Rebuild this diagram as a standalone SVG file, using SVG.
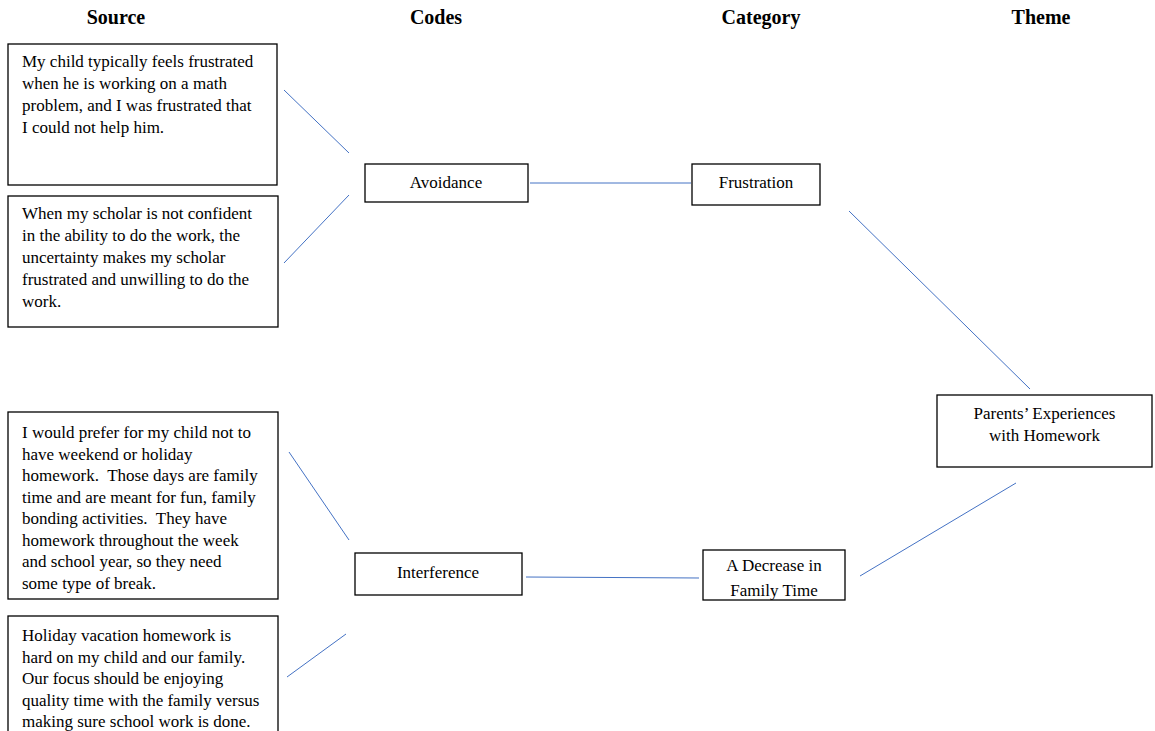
<svg xmlns="http://www.w3.org/2000/svg" width="1155" height="731" viewBox="0 0 1155 731">
  <style>
    .hdr { font-family: "Liberation Serif", "Times New Roman", serif; font-size: 20px; font-weight: bold; fill: #000; text-anchor: middle; }
    .box { fill: #fff; stroke: #000; stroke-width: 1.3; }
    .txt { font-family: "Liberation Serif", "Times New Roman", serif; font-size: 17px; fill: #000; }
    .mid { text-anchor: middle; }
    .link { stroke: #4472c4; stroke-width: 1; fill: none; }
  </style>
  <rect width="1155" height="731" fill="#fff"/>

  <!-- column headings -->
  <g id="headings">
    <text class="hdr" x="116" y="24">Source</text>
    <text class="hdr" x="436" y="24">Codes</text>
    <text class="hdr" x="761" y="24">Category</text>
    <text class="hdr" x="1041" y="24">Theme</text>
  </g>

  <!-- connectors -->
  <g id="connectors">
    <line class="link" x1="284" y1="90" x2="349" y2="153"/>
    <line class="link" x1="284" y1="263" x2="349" y2="195"/>
    <line class="link" x1="530" y1="183" x2="691" y2="183"/>
    <line class="link" x1="849" y1="211" x2="1030" y2="389"/>
    <line class="link" x1="289" y1="452" x2="349" y2="540"/>
    <line class="link" x1="287" y1="677" x2="346" y2="634"/>
    <line class="link" x1="526" y1="577" x2="699" y2="578"/>
    <line class="link" x1="860" y1="576" x2="1016" y2="483"/>
  </g>

  <!-- source quotes -->
  <g id="source1">
    <rect class="box" x="8" y="44" width="269" height="141"/>
    <text class="txt" x="22" y="67">
      <tspan x="22" dy="0">My child typically feels frustrated</tspan>
      <tspan x="22" dy="22">when he is working on a math</tspan>
      <tspan x="22" dy="22">problem, and I was frustrated that</tspan>
      <tspan x="22" dy="22">I could not help him.</tspan>
    </text>
  </g>
  <g id="source2">
    <rect class="box" x="8" y="196" width="270" height="131"/>
    <text class="txt" x="22" y="219">
      <tspan x="22" dy="0">When my scholar is not confident</tspan>
      <tspan x="22" dy="22">in the ability to do the work, the</tspan>
      <tspan x="22" dy="22">uncertainty makes my scholar</tspan>
      <tspan x="22" dy="22">frustrated and unwilling to do the</tspan>
      <tspan x="22" dy="22">work.</tspan>
    </text>
  </g>
  <g id="source3">
    <rect class="box" x="8" y="412" width="270" height="187"/>
    <text class="txt" x="22" y="438">
      <tspan x="22" dy="0">I would prefer for my child not to</tspan>
      <tspan x="22" dy="21.5">have weekend or holiday</tspan>
      <tspan x="22" dy="21.5">homework.&#160; Those days are family</tspan>
      <tspan x="22" dy="21.5">time and are meant for fun, family</tspan>
      <tspan x="22" dy="21.5">bonding activities.&#160; They have</tspan>
      <tspan x="22" dy="21.5">homework throughout the week</tspan>
      <tspan x="22" dy="21.5">and school year, so they need</tspan>
      <tspan x="22" dy="21.5">some type of break.</tspan>
    </text>
  </g>
  <g id="source4">
    <rect class="box" x="8" y="616" width="270" height="130"/>
    <text class="txt" x="22" y="641">
      <tspan x="22" dy="0">Holiday vacation homework is</tspan>
      <tspan x="22" dy="21.5">hard on my child and our family.</tspan>
      <tspan x="22" dy="21.5">Our focus should be enjoying</tspan>
      <tspan x="22" dy="21.5">quality time with the family versus</tspan>
      <tspan x="22" dy="21.5">making sure school work is done.</tspan>
    </text>
  </g>

  <!-- codes -->
  <g id="avoidance">
    <rect class="box" x="365" y="164" width="163" height="38"/>
    <text class="txt mid" x="446" y="188">Avoidance</text>
  </g>
  <g id="interference">
    <rect class="box" x="355" y="553" width="167" height="42"/>
    <text class="txt mid" x="438" y="578">Interference</text>
  </g>

  <!-- categories -->
  <g id="frustration">
    <rect class="box" x="692" y="164" width="128" height="41"/>
    <text class="txt mid" x="756" y="188">Frustration</text>
  </g>
  <g id="decrease">
    <rect class="box" x="703" y="550" width="142" height="50"/>
    <text class="txt mid" x="774" y="571"><tspan x="774" dy="0">A Decrease in</tspan><tspan x="774" dy="25">Family Time</tspan></text>
  </g>

  <!-- theme -->
  <g id="theme">
    <rect class="box" x="937" y="395" width="215" height="72"/>
    <text class="txt mid" x="1044.5" y="419"><tspan x="1044.5" dy="0">Parents’ Experiences</tspan><tspan x="1044.5" dy="22">with Homework</tspan></text>
  </g>
</svg>
